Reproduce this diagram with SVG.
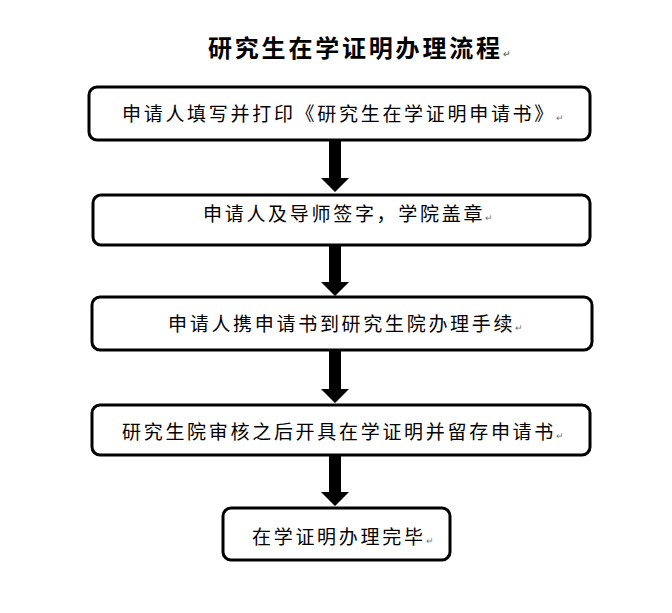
<svg xmlns="http://www.w3.org/2000/svg" width="672" height="613" viewBox="0 0 672 613">
<style>
.box{fill:#fff;stroke:#000;stroke-width:3}
.t{font-family:"Noto Sans CJK SC","Noto Sans",sans-serif;font-size:19px;letter-spacing:2.7px;fill:#000}
.title{font-family:"Noto Sans CJK SC","Noto Sans",sans-serif;font-size:24px;font-weight:bold;letter-spacing:2.8px;fill:#000}
.pm{font-size:9px;fill:#777;letter-spacing:0}
.arrow{fill:#000}
</style>
<rect width="672" height="613" fill="#fff"/>
<text class="title" x="208" y="57">研究生在学证明办理流程<tspan class="pm">↵</tspan></text>
<g id="connectors">
<polygon class="arrow" points="329,140 341,140 341,178 349,178 335,192 321,178 329,178"/>
<polygon class="arrow" points="329,245 341,245 341,282 349,282 335,296 321,282 329,282"/>
<polygon class="arrow" points="329,350 341,350 341,389 349,389 335,403 321,389 329,389"/>
<polygon class="arrow" points="329,455 341,455 341,492 349,492 335,506 321,492 329,492"/>
</g>
<g id="n1">
<rect class="box" x="89" y="87" width="501" height="53" rx="8"/>
<text class="t" x="122" y="121">申请人填写并打印《研究生在学证明申请书》<tspan class="pm">↵</tspan></text>
</g>
<g id="n2">
<rect class="box" x="93" y="195" width="497" height="50" rx="8"/>
<text class="t" x="203" y="221">申请人及导师签字，学院盖章<tspan class="pm">↵</tspan></text>
</g>
<g id="n3">
<rect class="box" x="92" y="297" width="500" height="53" rx="8"/>
<text class="t" x="168" y="331">申请人携申请书到研究生院办理手续<tspan class="pm">↵</tspan></text>
</g>
<g id="n4">
<rect class="box" x="92" y="405" width="498" height="50" rx="8"/>
<text class="t" x="122" y="439">研究生院审核之后开具在学证明并留存申请书<tspan class="pm">↵</tspan></text>
</g>
<g id="n5">
<rect class="box" x="223" y="508" width="227" height="52" rx="8"/>
<text class="t" x="252" y="544">在学证明办理完毕<tspan class="pm">↵</tspan></text>
</g>
</svg>
